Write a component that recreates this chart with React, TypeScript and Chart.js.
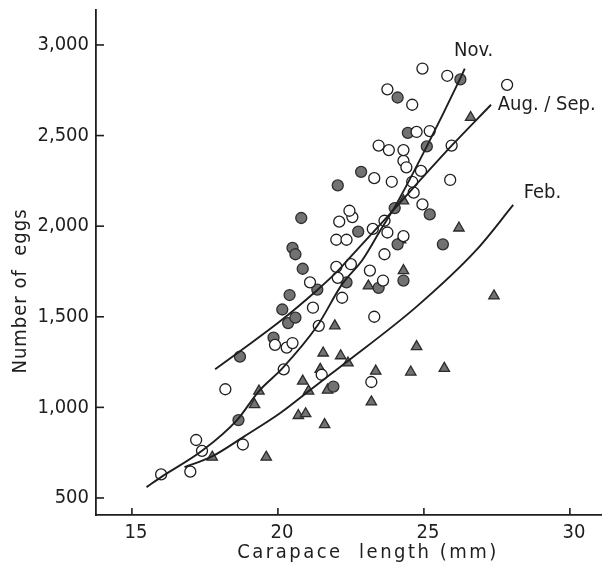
import React, { useEffect, useRef } from "react";
import { Chart, registerables } from "chart.js";

Chart.register(...registerables);

const X_TICKS = [15, 20, 25, 30];
const Y_TICKS = [500, 1000, 1500, 2000, 2500, 3000];
const X_TITLE = "Carapace  length (mm)";
const Y_TITLE = "Number of  eggs";

// Open circles (Aug./Sep.)
const AUG_SEP_POINTS: [number, number][] = [
  [16.0, 630], [17.0, 645], [17.2, 820], [17.4, 760], [18.2, 1100], [18.8, 795],
  [19.9, 1345], [20.3, 1330], [20.5, 1355], [20.2, 1210], [21.1, 1690], [21.2, 1550],
  [21.4, 1450], [22.0, 1775], [22.05, 1715], [22.2, 1605], [21.5, 1180], [22.5, 1790],
  [23.15, 1755], [23.6, 1700], [23.3, 1500], [23.2, 1140], [22.1, 2025], [22.55, 2050],
  [22.45, 2085], [22.0, 1925], [22.35, 1925], [23.65, 2030], [23.25, 1985], [23.75, 1965],
  [23.65, 1845], [24.3, 1945], [23.3, 2265], [23.9, 2245], [24.6, 2245], [24.65, 2185],
  [24.9, 2305], [24.95, 2120], [25.9, 2255], [24.3, 2360], [24.4, 2325], [23.45, 2445],
  [23.8, 2420], [24.3, 2420], [25.95, 2445], [24.75, 2520], [25.2, 2525], [24.6, 2670],
  [23.75, 2755], [24.95, 2870], [25.8, 2830], [27.85, 2780],
];

// Filled circles (Nov.)
const NOV_POINTS: [number, number][] = [
  [18.7, 1280], [18.65, 930], [19.85, 1385], [20.15, 1540], [20.35, 1465], [20.6, 1495],
  [20.4, 1620], [20.5, 1880], [20.6, 1845], [20.85, 1765], [20.8, 2045], [21.35, 1650],
  [22.05, 2225], [22.85, 2300], [22.35, 1690], [21.9, 1115], [23.45, 1660], [24.3, 1700],
  [22.75, 1970], [24.1, 1900], [24.0, 2100], [25.2, 2065], [25.65, 1900], [25.1, 2440],
  [24.45, 2515], [24.1, 2710], [26.25, 2810],
];

// Triangles (Feb.)
const FEB_POINTS: [number, number][] = [
  [17.75, 725], [19.6, 725], [19.35, 1090], [19.2, 1015], [20.7, 955], [20.95, 965],
  [21.6, 905], [20.85, 1145], [21.05, 1090], [21.7, 1095], [21.45, 1210], [21.55, 1300],
  [21.95, 1450], [22.15, 1285], [22.4, 1245], [23.2, 1030], [23.35, 1200], [23.1, 1670],
  [24.3, 1755], [24.2, 1925], [24.3, 2140], [24.75, 1335], [24.55, 1195], [25.7, 1215],
  [26.2, 1990], [26.6, 2600], [27.4, 1615],
];

const NOV_CURVE: [number, number][] = [
  [15.5, 560], [16.0, 615], [17.4, 760], [18.6, 930], [19.35, 1090], [20.15, 1215],
  [21.35, 1450], [22.2, 1680], [22.9, 1815], [23.5, 1975], [24.0, 2105], [25.1, 2440],
  [26.2, 2800], [26.4, 2870],
];

const AUG_SEP_CURVE: [number, number][] = [
  [17.85, 1210], [18.7, 1310], [20.15, 1485], [21.35, 1648], [22.0, 1745], [22.4, 1815],
  [23.65, 2035], [25.95, 2444], [27.3, 2670],
];

const FEB_CURVE: [number, number][] = [
  [16.8, 670], [17.73, 728], [18.85, 840], [20.07, 967], [21.06, 1090], [21.78, 1180],
  [22.35, 1250], [24.75, 1556], [26.8, 1869], [28.06, 2117],
];

const CURVE_LABELS = [
  { text: "Nov.", x: 26.03, y: 2967 },
  { text: "Aug. / Sep.", x: 27.53, y: 2669 },
  { text: "Feb.", x: 28.42, y: 2183 },
];

const FONT = '"DejaVu Sans Condensed", "DejaVu Sans", sans-serif';
const INK = "#1e1e1e";

const toXY = (arr: [number, number][]) => arr.map(([x, y]) => ({ x, y }));

const decorPlugin = {
  id: "decor",
  afterDraw(chart: any) {
    const { ctx, chartArea, scales } = chart;
    const xs = scales.x;
    const ys = scales.y;
    ctx.save();
    ctx.strokeStyle = INK;
    ctx.lineWidth = 1.6;
    X_TICKS.forEach((v) => {
      const px = xs.getPixelForValue(v);
      ctx.beginPath();
      ctx.moveTo(px, chartArea.bottom);
      ctx.lineTo(px, chartArea.bottom - 7);
      ctx.stroke();
    });
    Y_TICKS.forEach((v) => {
      const py = ys.getPixelForValue(v);
      ctx.beginPath();
      ctx.moveTo(chartArea.left, py);
      ctx.lineTo(chartArea.left + 8, py);
      ctx.stroke();
    });
    ctx.fillStyle = INK;
    ctx.font = `20px ${FONT}`;
    ctx.textBaseline = "middle";
    ctx.textAlign = "left";
    CURVE_LABELS.forEach((l) => {
      ctx.fillText(l.text, xs.getPixelForValue(l.x), ys.getPixelForValue(l.y));
    });
    ctx.textAlign = "center";
    (ctx as any).letterSpacing = "2.5px";
    ctx.fillText(X_TITLE, chartArea.left + 272, chartArea.bottom + 38);
    (ctx as any).letterSpacing = "1px";
    ctx.translate(chartArea.left - 75, chartArea.top + 281);
    ctx.rotate(-Math.PI / 2);
    ctx.fillText(Y_TITLE, 0, 0);
    ctx.restore();
  },
};

export default function App() {
  const ref = useRef<HTMLCanvasElement | null>(null);
  useEffect(() => {
    if (!ref.current) return;
    const scatterBase = {
      type: "scatter" as const,
      showLine: false,
    };
    const curve = (data: [number, number][]) => ({
      type: "line" as const,
      data: toXY(data),
      borderColor: INK,
      borderWidth: 1.9,
      pointRadius: 0,
      fill: false,
      cubicInterpolationMode: "monotone" as const,
      showLine: true,
    });
    const chart = new Chart(ref.current, {
      type: "scatter",
      data: {
        datasets: [
          curve(NOV_CURVE),
          curve(AUG_SEP_CURVE),
          curve(FEB_CURVE),
          {
            ...scatterBase,
            label: "Aug./Sep.",
            data: toXY(AUG_SEP_POINTS),
            pointStyle: "circle",
            pointRadius: 5.5,
            backgroundColor: "#ffffff",
            borderColor: INK,
            borderWidth: 1.3,
          },
          {
            ...scatterBase,
            label: "Nov.",
            data: toXY(NOV_POINTS),
            pointStyle: "circle",
            pointRadius: 5.5,
            backgroundColor: "#727272",
            borderColor: "#2e2e2e",
            borderWidth: 1.3,
          },
          {
            ...scatterBase,
            label: "Feb.",
            data: toXY(FEB_POINTS),
            pointStyle: "triangle",
            pointRadius: 6,
            backgroundColor: "#727272",
            borderColor: "#2a2a2a",
            borderWidth: 1.3,
          },
        ] as any,
      },
      options: {
        animation: false,
        responsive: false,
        layout: { autoPadding: false, padding: { top: 10, right: 0, left: 0, bottom: 0 } },
        plugins: { legend: { display: false }, tooltip: { enabled: false } },
        scales: {
          x: {
            type: "linear",
            min: 13.77,
            max: 31.1,
            afterFit: (s: any) => {
              s.height = 62;
              s.paddingLeft = 0;
              s.paddingRight = 0;
            },
            afterBuildTicks: (s: any) => {
              s.ticks = X_TICKS.map((v) => ({ value: v }));
            },
            grid: { display: false, drawTicks: false },
            border: { display: true, color: INK, width: 1.8 },
            ticks: {
              color: INK,
              padding: 6,
              labelOffset: 4,
              font: { family: FONT, size: 20 },
              maxRotation: 0,
            },
          },
          y: {
            type: "linear",
            min: 406,
            max: 3193,
            afterFit: (s: any) => {
              s.width = 96;
              s.paddingTop = 0;
              s.paddingBottom = 0;
            },
            afterBuildTicks: (s: any) => {
              s.ticks = Y_TICKS.map((v) => ({ value: v }));
            },
            grid: { display: false, drawTicks: false },
            border: { display: true, color: INK, width: 1.8 },
            ticks: {
              color: INK,
              padding: 7,
              font: { family: FONT, size: 20 },
              callback: (v: any) => Number(v).toLocaleString("en-US"),
            },
          },
        },
      },
      plugins: [decorPlugin],
    });
    return () => chart.destroy();
  }, []);
  return (
    <div style={{ position: "fixed", left: 0, top: 0, width: 602, height: 577, background: "#fff" }}>
      <canvas ref={ref} width={602} height={577} />
    </div>
  );
}
